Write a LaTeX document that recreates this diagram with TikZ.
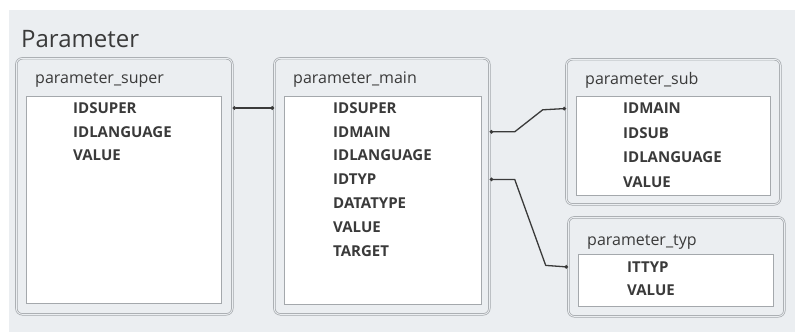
\documentclass[tikz,border=0pt]{standalone}
\usepackage{fontspec}
\setmainfont{Open Sans}
\usetikzlibrary{arrows.meta}

\definecolor{panel}{HTML}{EBEEF1}
\definecolor{frame}{HTML}{A4A8AC}
\definecolor{ink}{HTML}{3A3A3A}

\tikzset{
  outerbox/.style={draw=frame, double=panel, double distance=0.9pt, line width=0.7pt,
    rounded corners=6pt, fill=panel, anchor=north west, inner sep=0pt},
  innerbox/.style={draw=frame, line width=1.4pt, fill=white, anchor=north west, inner sep=0pt},
  tabletitle/.style={anchor=west, inner sep=0pt, text=ink, font=\fontsize{16}{18}\selectfont},
  field/.style={anchor=west, inner sep=0pt, text=ink, font=\fontsize{15}{17}\selectfont\bfseries},
  link/.style={draw=ink, line width=1.3pt, line join=round, {Circle[length=3.5pt]}-{Circle[length=3.5pt]}},
}

\begin{document}
\begin{tikzpicture}[x=1pt, y=-1pt]
  \useasboundingbox (0,0) rectangle (795,334);
  \fill[panel] (9,10) rectangle (795,332);
  \node[anchor=base west, inner sep=0pt, text=ink, font=\fontsize{24}{28}\selectfont] (caption) at (21,48) {Parameter};

  % tables
  \node[outerbox, minimum width=216pt, minimum height=256pt] (super) at (16,58) {};
  \node[innerbox, minimum width=195pt, minimum height=207pt] at (26,96) {};
  \node[tabletitle] at (35,80) {parameter\_super};
  \foreach \f [count=\i] in {IDSUPER,IDLANGUAGE,VALUE}
    \node[field] (super-\i) at (73, 84.3+23.7*\i) {\f};

  \node[outerbox, minimum width=215pt, minimum height=256pt] (main) at (274,58) {};
  \node[innerbox, minimum width=197pt, minimum height=208pt] at (284,96) {};
  \node[tabletitle] at (293,80) {parameter\_main};
  \foreach \f [count=\i] in {IDSUPER,IDMAIN,IDLANGUAGE,IDTYP,DATATYPE,VALUE,TARGET}
    \node[field] (main-\i) at (333, 84.2+23.8*\i) {\f};

  \node[outerbox, minimum width=214pt, minimum height=145pt] (sub) at (566,59) {};
  \node[innerbox, minimum width=194pt, minimum height=99pt] at (576,96) {};
  \node[tabletitle] at (585,80) {parameter\_sub};
  \foreach \f [count=\i] in {IDMAIN,IDSUB,IDLANGUAGE,VALUE}
    \node[field] (sub-\i) at (623, 84+24.5*\i) {\f};

  \node[outerbox, minimum width=216pt, minimum height=99pt] (typ) at (568,217) {};
  \node[innerbox, minimum width=195pt, minimum height=52pt] at (578,254) {};
  \node[tabletitle] at (587,242) {parameter\_typ};
  \foreach \f [count=\i] in {ITTYP,VALUE}
    \node[field] (typ-\i) at (627, 244+23*\i) {\f};

  % relations
  \draw[link] (super.east |- super-1) -- (main.west |- super-1);
  \draw[link] (main.east |- main-2) -- ++(25,0) -- ++(28,-22) -- (sub.west |- sub-1);
  \draw[link] (main.east |- main-4) -- ++(25,0) -- ++(31,86) -- (typ.west |- typ-1);
\end{tikzpicture}
\end{document}
